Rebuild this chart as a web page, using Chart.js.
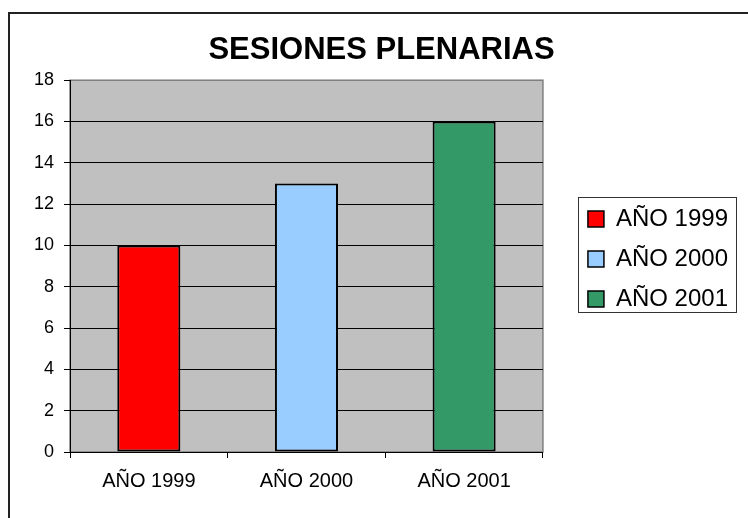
<!DOCTYPE html>
<html>
<head>
<meta charset="utf-8">
<script src="https://cdn.jsdelivr.net/npm/chart.js@4/dist/chart.umd.min.js"></script>
<style>
    html, body { margin: 0; padding: 0; background: #fff; overflow: hidden; }
    #myChart { display: block; }
</style>
</head>
<body>
<canvas id="myChart" width="748" height="518"></canvas>
<script>
// chart data
const categories = ["AÑO 1999", "AÑO 2000", "AÑO 2001"];
const sessions = [10, 13, 16];
const yMin = 0;
const yMax = 18;
const yStep = 2;

// one colour per year (Excel "vary colors by point")
const barColors = ["#FF0000", "#99CCFF", "#339966"];
const FONT = "'Liberation Sans', Arial, sans-serif";

// white page, outer chart border and grey plot area
const backgroundPlugin = {
    id: "excelBackground",
    beforeDraw(chart) {
        const { ctx, chartArea } = chart;
        ctx.save();
        ctx.fillStyle = "#fff";
        ctx.fillRect(0, 0, chart.width, chart.height);
        ctx.strokeStyle = "#222";
        ctx.lineWidth = 2;
        ctx.strokeRect(9, 13, 800, 600);
        ctx.fillStyle = "#C0C0C0";
        ctx.fillRect(chartArea.left, chartArea.top, chartArea.width, chartArea.height);
        ctx.strokeStyle = "#808080";
        ctx.lineWidth = 1.5;
        ctx.strokeRect(chartArea.left, chartArea.top, chartArea.width, chartArea.height);
        ctx.restore();
    },
    // frame around the legend
    afterDraw(chart) {
        const boxes = chart.legend && chart.legend.legendHitBoxes;
        if (!boxes || !boxes.length) return;
        const left = boxes[0].left - 10;
        const top = boxes[0].top - 10;
        const right = Math.max(...boxes.map(b => b.left + b.width)) + 8;
        const last = boxes[boxes.length - 1];
        const bottom = last.top + last.height + 1;
        const { ctx } = chart;
        ctx.save();
        ctx.strokeStyle = "#333";
        ctx.lineWidth = 1;
        ctx.strokeRect(Math.round(left) + 0.5, Math.round(top) + 0.5, Math.round(right - left), Math.round(bottom - top));
        ctx.restore();
    },
};

new Chart(document.getElementById("myChart").getContext("2d"), {
    type: "bar",
    data: {
        labels: categories,
        datasets: [
            {
                label: "Sesiones",
                data: sessions,
                backgroundColor: barColors,
                borderColor: "#000",
                borderWidth: 2,
                borderSkipped: false,
                barPercentage: 0.4,
                categoryPercentage: 1,
            },
        ],
    },
    options: {
        responsive: false,
        animation: false,
        devicePixelRatio: 1,
        layout: {
            padding: { left: 25, right: 10, top: 0, bottom: 0 },
        },
        plugins: {
            title: {
                display: true,
                text: "SESIONES PLENARIAS",
                color: "#000",
                font: { family: FONT, size: 31, weight: "bold", lineHeight: 1.2 },
                padding: { top: 32, bottom: 11 },
            },
            legend: {
                position: "right",
                maxWidth: 220,
                labels: {
                    color: "#000",
                    font: { family: FONT, size: 24 },
                    boxWidth: 16,
                    boxHeight: 16,
                    padding: 16,
                    // legend shows the categories, like Excel does
                    generateLabels: (chart) =>
                        chart.data.labels.map((label, i) => ({
                            text: label,
                            fillStyle: barColors[i],
                            strokeStyle: "#000",
                            lineWidth: 1.5,
                            fontColor: "#000",
                            index: i,
                            datasetIndex: 0,
                        })),
                },
                onClick: () => {},
            },
            tooltip: { enabled: false },
        },
        scales: {
            x: {
                grid: {
                    display: true,
                    drawOnChartArea: false,
                    drawTicks: true,
                    tickLength: 6,
                    color: "#000",
                },
                border: { display: true, color: "#000", width: 1 },
                ticks: {
                    color: "#000",
                    font: { family: FONT, size: 20 },
                    padding: 11,
                    maxRotation: 0,
                },
                afterFit: (scale) => { scale.height = 66; },
            },
            y: {
                min: yMin,
                max: yMax,
                grid: {
                    color: (ctx) => (ctx.tick && ctx.tick.value === yMax ? "#808080" : "#000"),
                    tickColor: "#000",
                    tickLength: 6,
                    lineWidth: 1,
                },
                border: { display: true, color: "#000", width: 1 },
                ticks: {
                    stepSize: yStep,
                    color: "#000",
                    font: { family: FONT, size: 18 },
                    padding: 10,
                },
                afterFit: (scale) => { scale.width = 45; },
            },
            // empty axis that keeps the gap between plot and legend
            gap: {
                type: "linear",
                position: "right",
                display: true,
                grid: { display: false },
                border: { display: false },
                ticks: { display: false },
                afterFit: (scale) => { scale.width = 29; },
            },
        },
    },
    plugins: [backgroundPlugin],
});
</script>
</body>
</html>
